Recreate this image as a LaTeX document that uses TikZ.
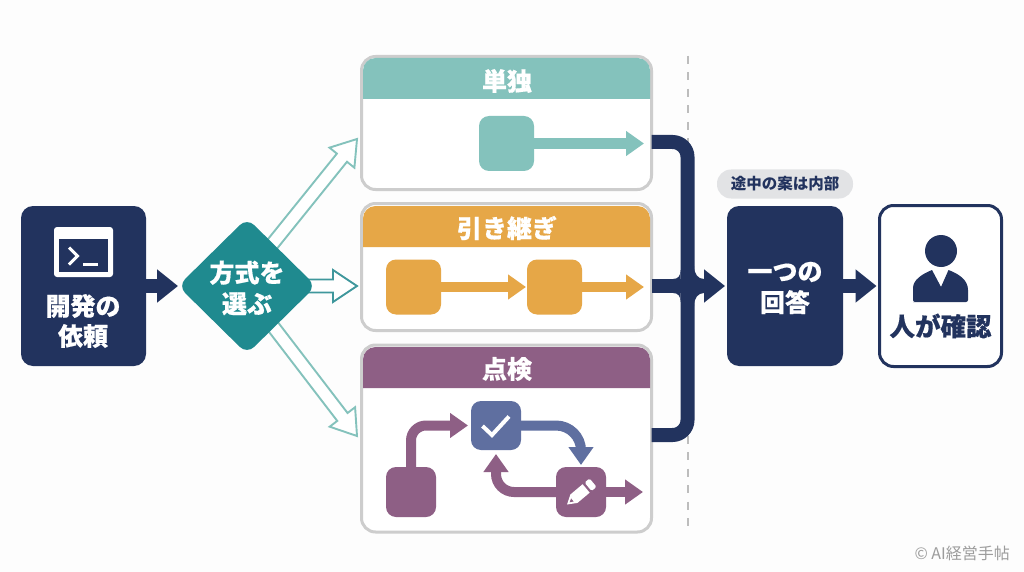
\documentclass[tikz,border=0pt]{standalone}
\usepackage{fontspec}
\setmainfont{Noto Sans CJK JP}
\newfontfamily\heavy{Noto Sans CJK JP}[BoldFeatures={FakeBold=0.5}]
\usetikzlibrary{arrows.meta,calc,shapes.geometric,backgrounds}
\definecolor{navy}{HTML}{22335E}
\definecolor{tealdark}{HTML}{1F8A8F}
\definecolor{teallight}{HTML}{84C2BC}
\definecolor{hollowmid}{HTML}{3F979C}
\definecolor{amber}{HTML}{E6A747}
\definecolor{plum}{HTML}{8E5F85}
\definecolor{slate}{HTML}{5F6FA0}
\definecolor{cardline}{HTML}{CDCDCD}
\definecolor{pillgray}{HTML}{E2E3E5}
\definecolor{dashgray}{HTML}{BDBDBD}
\definecolor{creditgray}{HTML}{9C9C9C}
\definecolor{paper}{HTML}{FDFDFD}
\newcommand{\fsz}[1]{\fontsize{#1}{#1}\selectfont}
% hollow arrow: start, tip, colour
\newcommand{\hollowarrow}[3]{%
  \draw[#3,line width=1.9pt,fill=white,line join=miter]
    ($(#1)!6.5pt!-90:(#2)$)
    -- ($(#2)!24pt!(#1)!6.5pt!-90:(#2)$)
    -- ($(#2)!24pt!(#1)!16pt!-90:(#2)$)
    -- (#2)
    -- ($(#2)!24pt!(#1)!16pt!90:(#2)$)
    -- ($(#2)!24pt!(#1)!6.5pt!90:(#2)$)
    -- ($(#1)!6.5pt!90:(#2)$);}
\newcommand{\cardhead}[5]{% x1 x2 ytop ybot colour
  \fill[#5] (#1,#4) [rounded corners=12.5pt] -- (#1,#3) -- (#2,#3) [sharp corners] -- (#2,#4) -- cycle;}
\tikzset{
  x=1pt,y=-1pt,
  navybox/.style={fill=navy,rounded corners=12pt,minimum width=#1,minimum height=160pt,inner sep=0pt,outer sep=0pt},
  cardbox/.style={draw=cardline,line width=3pt,fill=white,rounded corners=14pt,minimum width=290pt,minimum height=#1,inner sep=0pt,outer sep=0pt},
  boxtext/.style={text=white,align=center,font=\heavy\bfseries\fsz{25},inner sep=0pt},
  stepsq/.style={fill=#1,rounded corners=10pt,inner sep=0pt,outer sep=0pt},
  blockarrow/.style={navy,line width=14pt,-{Triangle[length=21pt,width=32pt]}},
  thinarrow/.style={#1,line width=10pt,-{Triangle[length=18pt,width=24pt]}},
}
\begin{document}
\begin{tikzpicture}
\useasboundingbox (0,0) rectangle (1024,572);

% main nodes
\node[navybox=125pt] (req) at (83.5,286) {};
\node[boxtext] (reqtext) at (83,321) {開発の\\[5pt]依頼};
\node[diamond,fill=tealdark,rounded corners=10pt,minimum width=138pt,minimum height=136pt,inner sep=0pt,outer sep=0pt] (pick) at (247,286) {};
\node[boxtext] (picktext) at (247,288) {方式を\\[6pt]選ぶ};

% hollow arrows and divider, behind everything
\coordinate (s1) at (261.6,257.4);
\coordinate (h1) at (357,139);
\coordinate (h2) at (357,286);
\coordinate (s3) at (262.7,313);
\coordinate (h3) at (357,436);
\coordinate (dtop) at (688,56);
\coordinate (dbot) at (688,532);
\begin{scope}[on background layer]
  \fill[paper] (0,0) rectangle (1024,572);
  \draw[dashgray,line width=2.5pt,dash pattern=on 8pt off 8.5pt] (dtop) -- (dbot);
  \hollowarrow{s1}{h1}{teallight}
  \hollowarrow{s3}{h3}{teallight}
  \hollowarrow{pick.center}{h2}{hollowmid}
\end{scope}

% terminal icon
\fill[white,rounded corners=3pt] (54,227) rectangle (113,277);
\fill[navy] (59,239) rectangle (108,272);
\draw[white,line width=3pt,line join=miter] (69,247.5) -- (77.5,256) -- (69,264.5);
\draw[white,line width=3pt] (83,264.5) -- (98,264.5);

% cards
\node[cardbox=133pt] (c1) at (506.5,123) {};
\node[cardbox=127pt] (c2) at (506.5,267) {};
\node[cardbox=187pt] (c3) at (506.5,438.5) {};
\cardhead{363}{650}{58}{99}{teallight}
\cardhead{363}{650}{206}{247}{amber}
\cardhead{363}{650}{347}{388}{plum}
\node[boxtext] (t1) at (507,81) {単独};
\node[boxtext] (t2) at (507,228) {引き継ぎ};
\node[boxtext] (t3) at (507,369) {点検};

\draw[blockarrow] (req.east) -- (pick.west);

% card 1 content
\node[stepsq=teallight,minimum width=55pt,minimum height=55pt] (a1) at (506.5,143.5) {};
\coordinate (e1) at (644,143.5);
\draw[thinarrow=teallight,line width=11pt] (a1.east) -- (e1);

% card 2 content
\node[stepsq=amber,minimum width=55pt,minimum height=55pt] (b1) at (413.5,287) {};
\node[stepsq=amber,minimum width=55pt,minimum height=55pt] (b2) at (554.5,287) {};
\coordinate (e2) at (644,287);
\draw[thinarrow=amber,shorten >=1pt] (b1.east) -- (b2.west);
\draw[thinarrow=amber] (b2.east) -- (e2);

% card 3 content
\node[stepsq=plum,minimum width=50pt,minimum height=50pt] (d1) at (411,492) {};
\node[stepsq=slate,minimum width=50pt,minimum height=49pt] (d2) at (496,425.5) {};
\node[stepsq=plum,minimum width=50pt,minimum height=50pt] (d3) at (581,492) {};
\coordinate (e3) at (643,492);
\draw[thinarrow=plum,rounded corners=15pt,shorten >=3pt] (d1.north) |- (d2.west);
\draw[thinarrow=slate,rounded corners=25pt,shorten >=2pt] (d2.east) -| (d3.north);
\draw[thinarrow=plum,rounded corners=18pt,shorten >=4pt] (d3.west) -| (d2.south);
\draw[thinarrow=plum] (d3.east) -- (e3);

% check mark
\draw[white,line width=4pt,line join=miter] (482.5,426) -- (492,435) -- (509,416.5);
% pencil
\begin{scope}[shift={(567,504.5)},rotate=40]
  \fill[white] (0,0) -- (9,-5.5) -- (25,-5.5) -- (25,5.5) -- (9,5.5) -- cycle;
  \fill[white,rounded corners=1.5pt] (27.5,-5.5) -- (34,-5.5) -- (34,5.5) -- (27.5,5.5) -- cycle;
  \fill[plum] (3.5,0) -- (7,-2) -- (7,2) -- cycle;
\end{scope}

% merge bracket
\coordinate (m1) at (651.5,142);
\coordinate (m2) at (651.5,286);
\coordinate (m3) at (651.5,435);
\coordinate (mj) at (687.5,286);
\node[navybox=116pt] (ans) at (785,286) {};
\node[boxtext] (anstext) at (785,288) {一つの\\[6pt]回答};
\draw[navy,line width=14pt,rounded corners=15pt] (m1) -| (mj);
\draw[navy,line width=14pt,rounded corners=15pt] (m3) -| (mj);
\draw[blockarrow,shorten >=2pt] (m2) -- (ans.west);
\fill[navy] (694,266) .. controls (694,274) and (698,279) .. (704,279) -- (694,279) -- cycle;
\fill[navy] (694,306) .. controls (694,298) and (698,293) .. (704,293) -- (694,293) -- cycle;
\fill[navy] (680.5,270) .. controls (680.5,276) and (678,279) .. (673,279) -- (680.5,279) -- cycle;
\fill[navy] (680.5,302) .. controls (680.5,296) and (678,293) .. (673,293) -- (680.5,293) -- cycle;

% pill
\node[fill=pillgray,rounded corners=14pt,minimum width=136pt,minimum height=29pt,inner sep=0pt,text=navy,font=\bfseries\fsz{15.5}] (pill) at (785,184) {途中の案は内部};

% human check
\node[draw=navy,line width=3pt,fill=white,rounded corners=14pt,minimum width=122pt,minimum height=161pt,inner sep=0pt,outer sep=0pt] (human) at (940.5,286) {};
\draw[blockarrow,shorten >=3pt] (ans.east) -- (human.west);
\fill[navy] (941,251) circle[radius=16pt];
\fill[navy] (915,302) [rounded corners=2pt] -- (913,302) -- (913,290) [sharp corners] .. controls (913,280) and (922,274) .. (932,270) -- (941,287) -- (948.5,270) .. controls (959,274) and (968,280) .. (968,290) [rounded corners=2pt] -- (968,302) -- cycle;
\node[text=navy,font=\heavy\bfseries\fsz{25.5},inner sep=0pt] (humantext) at (940.5,326) {人が確認};

% credit
\node[text=creditgray,font=\fsz{16},anchor=east,inner sep=0pt] (credit) at (1010,553) {© AI経営手帖};
\end{tikzpicture}
\end{document}
